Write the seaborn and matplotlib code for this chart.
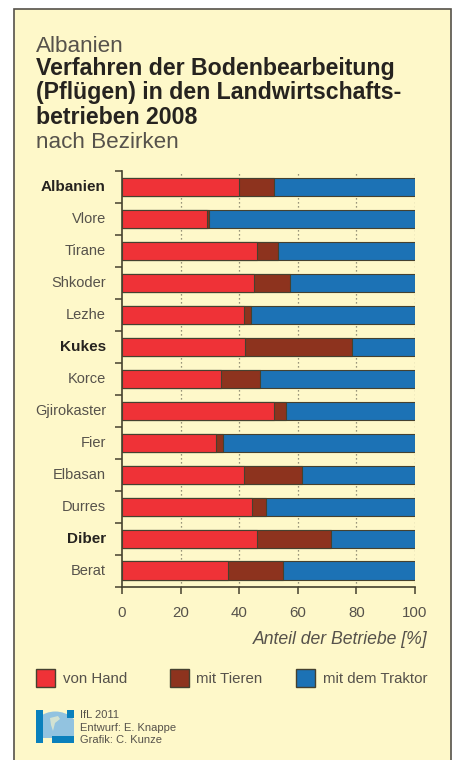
import matplotlib
matplotlib.use("Agg")
import matplotlib.pyplot as plt
import numpy as np
import pandas as pd
import seaborn as sns
from matplotlib.patches import Rectangle, Ellipse, Polygon

# Werte
bezirke = ["Albanien", "Vlore", "Tirane", "Shkoder", "Lezhe", "Kukes", "Korce",
           "Gjirokaster", "Fier", "Elbasan", "Durres", "Diber", "Berat"]
von_hand = [40.0, 28.9, 46.2, 44.9, 41.7, 42.0, 33.9, 52.0, 32.2, 41.7, 44.4, 46.1, 36.2]
mit_tieren = [12.0, 0.8, 7.0, 12.6, 2.3, 36.4, 13.3, 4.0, 2.2, 19.7, 4.8, 25.4, 18.8]
mit_traktor = [48.0, 70.3, 46.8, 42.5, 56.0, 21.6, 52.8, 44.0, 65.6, 38.6, 50.8, 28.5, 45.0]
fett = ["Albanien", "Kukes", "Diber"]
x_ticks = [0, 20, 40, 60, 80, 100]

ROT = "#EF3237"
BRAUN = "#8D331E"
BLAU = "#1C72B5"
CREME = "#FEF8C9"
TEXT = "#56524B"
DUNKEL = "#26231F"
LINIE = "#45412F"

W, H = 456, 760

plt.rcParams['font.family'] = ['Liberation Sans', 'DejaVu Sans']

df = pd.DataFrame({"bezirk": bezirke, "hand": von_hand, "tiere": mit_tieren, "traktor": mit_traktor})
df["s1"] = df["hand"]
df["s2"] = df["hand"] + df["tiere"]
df["s3"] = df["s2"] + df["traktor"]

fig = plt.figure(figsize=(W / 100, H / 100), dpi=100, facecolor="white")

# Rahmen und Text in Pixelkoordinaten
bg = fig.add_axes([0, 0, 1, 1])
bg.set_xlim(0, W)
bg.set_ylim(H, 0)
bg.axis("off")
bg.add_patch(Rectangle((13.7, 9), 437, 770, facecolor=CREME, edgecolor="#55524A", linewidth=1.2))

bg.text(36, 52, "Albanien", fontsize=16.2, color=TEXT, va="baseline")
for y, s in zip([75.5, 99.5, 124], ["Verfahren der Bodenbearbeitung",
                                    "(Pflügen) in den Landwirtschafts-",
                                    "betrieben 2008"]):
    bg.text(36, y, s, fontsize=16.7, fontweight="bold", color=DUNKEL, va="baseline")
bg.text(36, 148, "nach Bezirken", fontsize=16.2, color=TEXT, va="baseline")

# Diagramm
left, right, top, bottom = 122, 415, 171, 586.5
ax = fig.add_axes([left / W, 1 - bottom / H, (right - left) / W, (bottom - top) / H])
ax.patch.set_alpha(0)

for xt in x_ticks[1:]:
    ax.axvline(xt, color="#77735F", linewidth=0.9, linestyle=(0, (1, 2.2)), zorder=0)

for spalte, farbe in zip(["s3", "s2", "s1"], [BLAU, BRAUN, ROT]):
    sns.barplot(data=df, y="bezirk", x=spalte, color=farbe, saturation=1, width=0.565,
                errorbar=None, edgecolor=LINIE, linewidth=0.8, ax=ax, zorder=3)

ax.set_xlim(0, 100)
ax.set_ylim(len(bezirke) - 0.5, -0.5)
ax.set_xlabel("")
ax.set_ylabel("")
ax.set_xticks(x_ticks)
ax.set_xticklabels([str(v) for v in x_ticks], fontsize=10.8, color=TEXT)
ax.tick_params(axis="x", length=5, width=1.1, color=LINIE, pad=9)

# Striche der y-Achse sitzen zwischen den Balken
ax.set_yticks(np.arange(len(bezirke) + 1) - 0.5)
ax.set_yticklabels([])
ax.tick_params(axis="y", length=5, width=1.1, color=LINIE)
for i, name in enumerate(bezirke):
    ist_fett = name in fett
    ax.annotate(name, xy=(0, i), xycoords=("data", "data"), xytext=(-16, 0), textcoords="offset pixels",
                ha="right", va="center", fontsize=11 if ist_fett else 10.5, annotation_clip=False,
                fontweight="bold" if ist_fett else "normal", color=DUNKEL if ist_fett else TEXT)

for seite in ["top", "right"]:
    ax.spines[seite].set_visible(False)
for seite in ["left", "bottom"]:
    ax.spines[seite].set_color(LINIE)
    ax.spines[seite].set_linewidth(1.2)

bg.text(427.5, 644, "Anteil der Betriebe [%]", fontsize=12.7, style="italic", color=TEXT, ha="right", va="baseline")

# Legende
legende = [(36.3, ROT, "von Hand", 63), (169.6, BRAUN, "mit Tieren", 196.3), (296, BLAU, "mit dem Traktor", 322.7)]
for x0, farbe, label, xt in legende:
    bg.add_patch(Rectangle((x0, 668.7), 19, 18.7, facecolor=farbe, edgecolor=LINIE, linewidth=1))
    bg.text(xt, 683.3, label, fontsize=10.8, color=TEXT, va="baseline")

# Logo
LOGO = "#0A80BC"
globus = Ellipse((55.3, 733), 48, 43, facecolor="#92C3E0", edgecolor="none")
bg.add_patch(globus)
globus.set_clip_path(Rectangle((36.5, 710, ), 37.5, 28, transform=bg.transData))
bg.add_patch(Polygon([[50, 718], [58, 716], [60, 719], [55, 723], [53, 731], [51, 725]],
                     facecolor=CREME, edgecolor="none", alpha=0.6))
bg.add_patch(Rectangle((36.5, 710), 6.5, 33, facecolor=LOGO, edgecolor="none"))
bg.add_patch(Rectangle((67.5, 710), 6.5, 8, facecolor=LOGO, edgecolor="none"))
bg.add_patch(Rectangle((52, 736), 22, 7, facecolor=LOGO, edgecolor="none"))

for y, s in zip([718.3, 731, 742.7], ["IfL 2011", "Entwurf: E. Knappe", "Grafik: C. Kunze"]):
    bg.text(80.3, y, s, fontsize=8, color=TEXT, va="baseline")

fig.savefig("out.png", dpi=100, facecolor="white")
